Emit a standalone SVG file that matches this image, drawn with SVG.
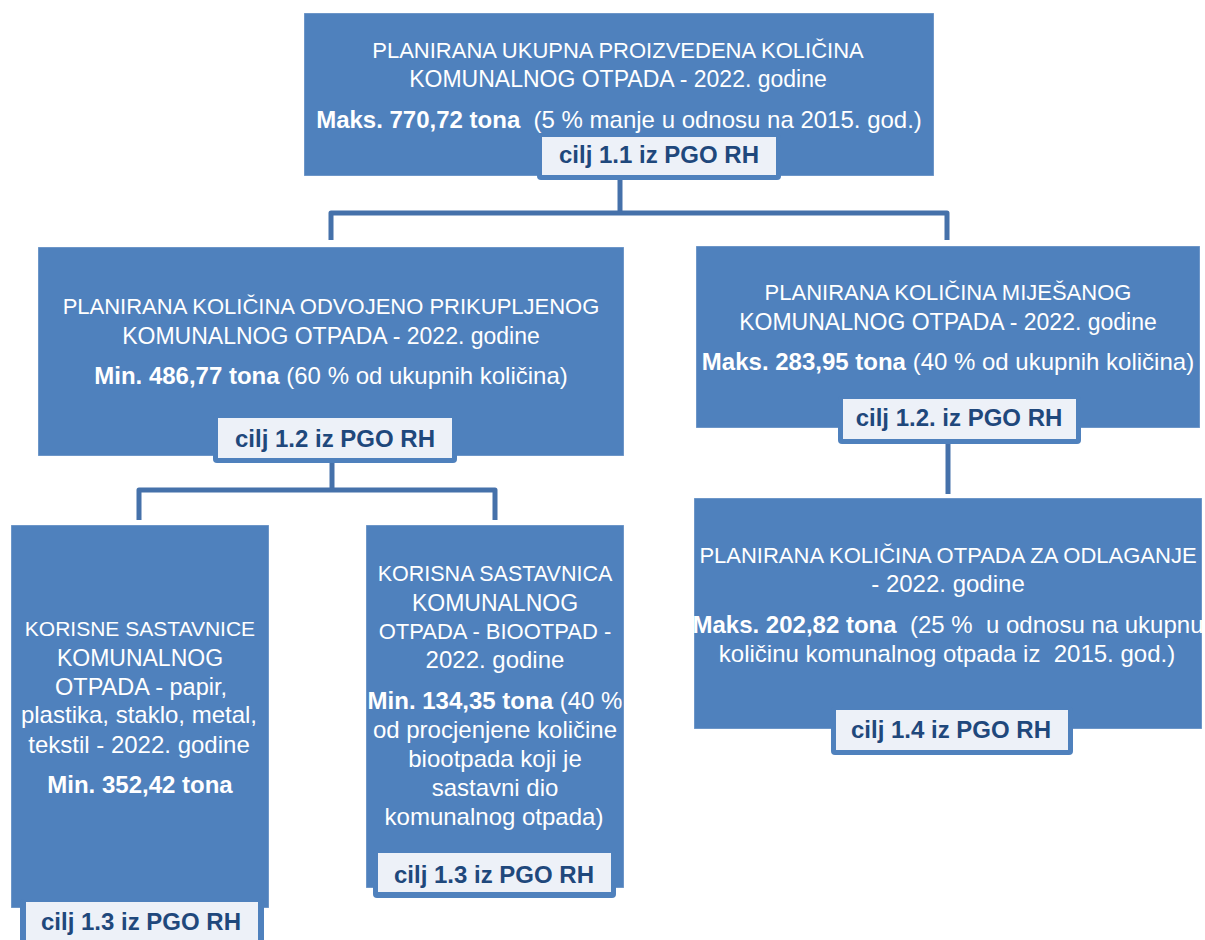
<svg xmlns="http://www.w3.org/2000/svg" width="1205" height="940" viewBox="0 0 1205 940">
<style>
.box{fill:#4f81bd;stroke:#ffffff;stroke-opacity:0.35;stroke-width:1}
.frame{fill:#4f81bd}
.tagfill{fill:#edf1f8}
.conn{fill:none;stroke:#4571aa;stroke-width:5;stroke-linejoin:round;stroke-linecap:butt}
text{font-family:"Liberation Sans",Arial,sans-serif;text-anchor:middle}
.t{fill:#ffffff}
.c{font-size:22px}
.m{font-size:23px}
.l{font-size:24px}
.b{font-weight:bold}
.pre{white-space:pre}
.tag{fill:#1f487c;font-size:24px;font-weight:bold}
</style>
<rect width="1205" height="940" fill="#ffffff"/>
<g id="connectors">
<path class="conn" d="M620,180 V213"/>
<path class="conn" d="M331,240 V213 H947 V240"/>
<path class="conn" d="M332,462 V490"/>
<path class="conn" d="M139,520 V490 H495 V520"/>
<path class="conn" d="M948,443 V494"/>
</g>
<g id="node-total">
<rect class="box" x="304" y="13" width="630" height="163"/>
<text class="t c" x="618" y="58">PLANIRANA UKUPNA PROIZVEDENA KOLIČINA</text>
<text class="t m" x="618" y="87">KOMUNALNOG OTPADA - 2022. godine</text>
<text class="t l pre" x="619" y="128"><tspan class="b">Maks. 770,72 tona</tspan>  (5 % manje u odnosu na 2015. god.)</text>
<rect class="frame" x="537" y="134" width="244" height="46" rx="4"/>
<rect class="tagfill" x="542" y="137" width="234" height="38"/>
<text class="tag" x="659" y="163">cilj 1.1 iz PGO RH</text>
</g>
<g id="node-separate">
<rect class="box" x="38" y="247" width="586" height="209"/>
<text class="t c" x="331" y="314">PLANIRANA KOLIČINA ODVOJENO PRIKUPLJENOG</text>
<text class="t m" x="331" y="344">KOMUNALNOG OTPADA - 2022. godine</text>
<text class="t l" x="331" y="384"><tspan class="b">Min. 486,77 tona</tspan> (60 % od ukupnih količina)</text>
<rect class="frame" x="213" y="415" width="244" height="48" rx="4"/>
<rect class="tagfill" x="218" y="418" width="234" height="40"/>
<text class="tag" x="335" y="447">cilj 1.2 iz PGO RH</text>
</g>
<g id="node-mixed">
<rect class="box" x="696" y="246" width="504" height="182"/>
<text class="t c" x="948" y="300">PLANIRANA KOLIČINA MIJEŠANOG</text>
<text class="t m" x="948" y="330">KOMUNALNOG OTPADA - 2022. godine</text>
<text class="t l" x="948" y="370"><tspan class="b">Maks. 283,95 tona</tspan> (40 % od ukupnih količina)</text>
<rect class="frame" x="838" y="396" width="243" height="48" rx="4"/>
<rect class="tagfill" x="843" y="399" width="233" height="40"/>
<text class="tag" x="959" y="426">cilj 1.2. iz PGO RH</text>
</g>
<g id="node-landfill">
<rect class="box" x="694" y="498" width="508" height="231"/>
<text class="t c" x="948" y="563">PLANIRANA KOLIČINA OTPADA ZA ODLAGANJE</text>
<text class="t l" x="948" y="592">- 2022. godine</text>
<text class="t l pre" x="948" y="633"><tspan class="b">Maks. 202,82 tona</tspan>  (25 %  u odnosu na ukupnu</text>
<text class="t l pre" x="947" y="662">količinu komunalnog otpada iz  2015. god.)</text>
<rect class="frame" x="831" y="707" width="242" height="48" rx="4"/>
<rect class="tagfill" x="836" y="710" width="232" height="40"/>
<text class="tag" x="951" y="738">cilj 1.4 iz PGO RH</text>
</g>
<g id="node-recyclables">
<rect class="box" x="11" y="525" width="258" height="383"/>
<text class="t" x="140" y="636" font-size="21">KORISNE SASTAVNICE</text>
<text class="t m" x="140" y="666">KOMUNALNOG</text>
<text class="t" x="141" y="695" font-size="23.5">OTPADA - papir,</text>
<text class="t l" x="139" y="723">plastika, staklo, metal,</text>
<text class="t l" x="139" y="753">tekstil - 2022. godine</text>
<text class="t l b" x="140" y="793">Min. 352,42 tona</text>
<rect class="frame" x="20" y="899" width="244" height="50" rx="4"/>
<rect class="tagfill" x="26" y="902" width="232" height="45"/>
<text class="tag" x="141" y="930">cilj 1.3 iz PGO RH</text>
</g>
<g id="node-biowaste">
<rect class="box" x="366" y="525" width="258" height="363"/>
<text class="t" x="495" y="581" font-size="21.5">KORISNA SASTAVNICA</text>
<text class="t m" x="495" y="611">KOMUNALNOG</text>
<text class="t c" x="495" y="639">OTPADA - BIOOTPAD -</text>
<text class="t l" x="495" y="668">2022. godine</text>
<text class="t l" x="495" y="709"><tspan class="b">Min. 134,35 tona</tspan> (40 %</text>
<text class="t l" x="495" y="738">od procjenjene količine</text>
<text class="t l" x="495" y="767">biootpada koji je</text>
<text class="t l" x="495" y="796">sastavni dio</text>
<text class="t l" x="494" y="825">komunalnog otpada)</text>
<rect class="frame" x="373" y="850" width="243" height="48" rx="4"/>
<rect class="tagfill" x="378" y="853" width="233" height="39"/>
<text class="tag" x="494" y="883">cilj 1.3 iz PGO RH</text>
</g>
</svg>
